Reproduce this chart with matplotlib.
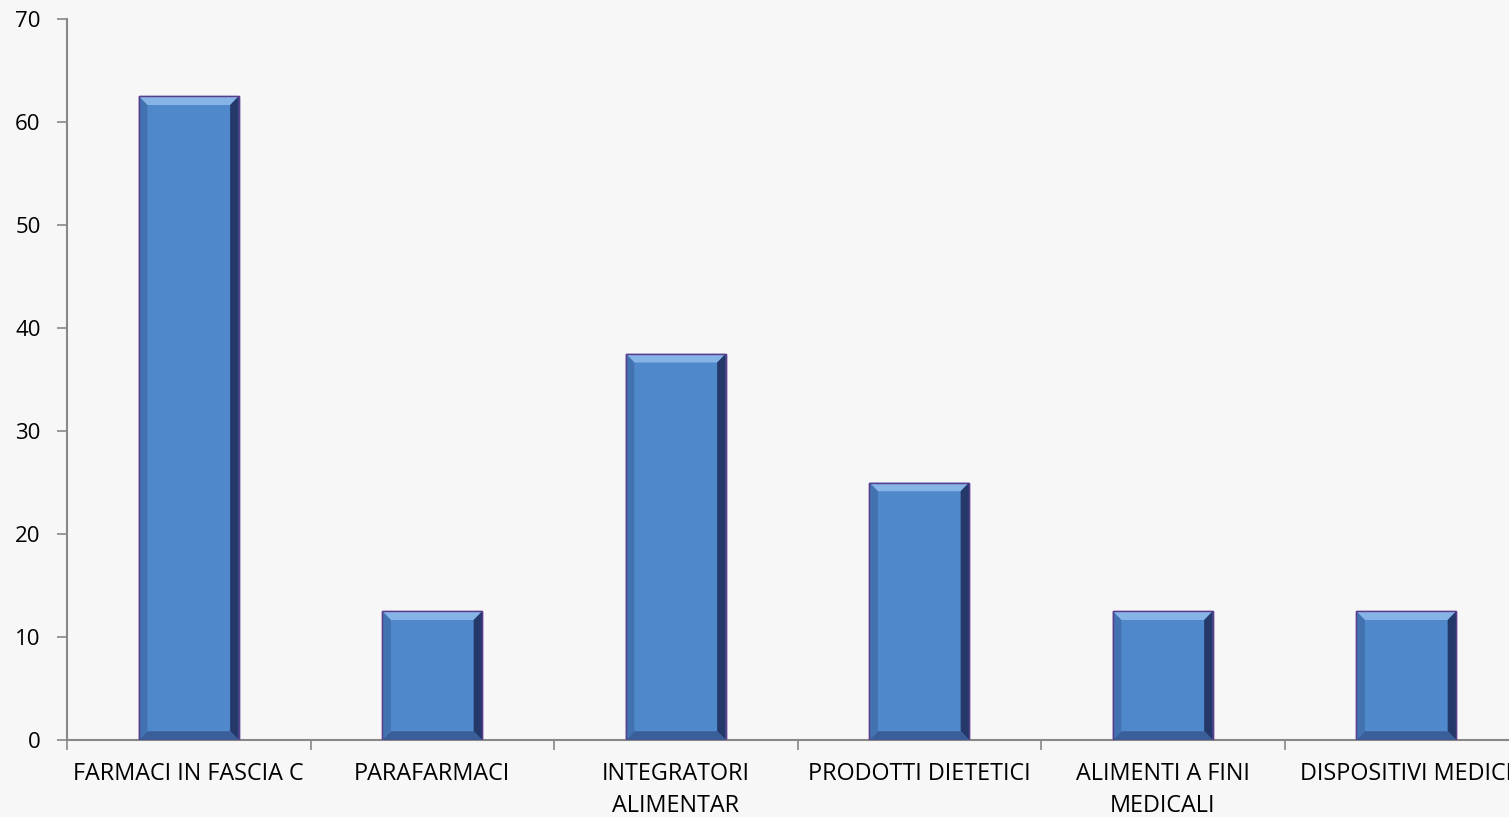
import numpy as np
import matplotlib.pyplot as plt
from matplotlib.patches import Polygon

categorie = ["FARMACI IN FASCIA C", "PARAFARMACI", "INTEGRATORI\nALIMENTAR",
             "PRODOTTI DIETETICI", "ALIMENTI A FINI\nMEDICALI", "DISPOSITIVI MEDICI"]
valori = [62.5, 12.5, 37.5, 25, 12.5, 12.5]
y_ticks = [0, 10, 20, 30, 40, 50, 60, 70]

plt.rcParams['font.family'] = ['Open Sans', 'DejaVu Sans']

fig = plt.figure(figsize=(15.09, 8.17), dpi=100)
fig.patch.set_facecolor("#f7f7f7")
# the axes runs a bit past the right edge of the figure
ax = fig.add_axes([67 / 1509, 77 / 817, 1461 / 1509, 721 / 817])
ax.set_facecolor("#f7f7f7")

x = np.arange(len(categorie))
bars = ax.bar(x, valori, width=0.41, color="#5089cb", edgecolor="#5b3d8c",
              linewidth=1.0, zorder=2)

# bevel faces on each bar
dx, dy = 0.035, 0.85
for b in bars:
    x0, w, h = b.get_x(), b.get_width(), b.get_height()
    x1 = x0 + w
    facce = [
        ([(x0, h), (x1, h), (x1 - dx, h - dy), (x0 + dx, h - dy)], "#86b4e7"),
        ([(x1, h), (x1, 0), (x1 - dx, dy), (x1 - dx, h - dy)], "#24386a"),
        ([(x0, 0), (x1, 0), (x1 - dx, dy), (x0 + dx, dy)], "#3a5e98"),
        ([(x0, 0), (x0, h), (x0 + dx, h - dy), (x0 + dx, dy)], "#4272b0"),
    ]
    for pts, col in facce:
        ax.add_patch(Polygon(pts, closed=True, facecolor=col, edgecolor="none", zorder=3))
    ax.add_patch(plt.Rectangle((x0, 0), w, h, fill=False, edgecolor="#5b3d8c",
                               linewidth=1.0, zorder=4))

ax.set_xlim(-0.5, len(categorie) - 0.5)
ax.set_ylim(0, 70)
ax.set_yticks(y_ticks)
ax.set_xticks(x)
ax.set_xticklabels(categorie, fontsize=16.8, linespacing=1.45)
ax.set_xticks(np.arange(-0.5, len(categorie), 1.0), minor=True)
ax.tick_params(axis="x", which="major", length=0, pad=16)
ax.tick_params(axis="x", which="minor", length=7, color="#888888", width=1.2)
ax.tick_params(axis="y", length=7, color="#888888", width=1.2, labelsize=16, pad=12)

for s in ["top", "right"]:
    ax.spines[s].set_visible(False)
for s in ["left", "bottom"]:
    ax.spines[s].set_color("#888888")
    ax.spines[s].set_linewidth(1.5)

fig.savefig("out.png", dpi=100, facecolor=fig.get_facecolor())
